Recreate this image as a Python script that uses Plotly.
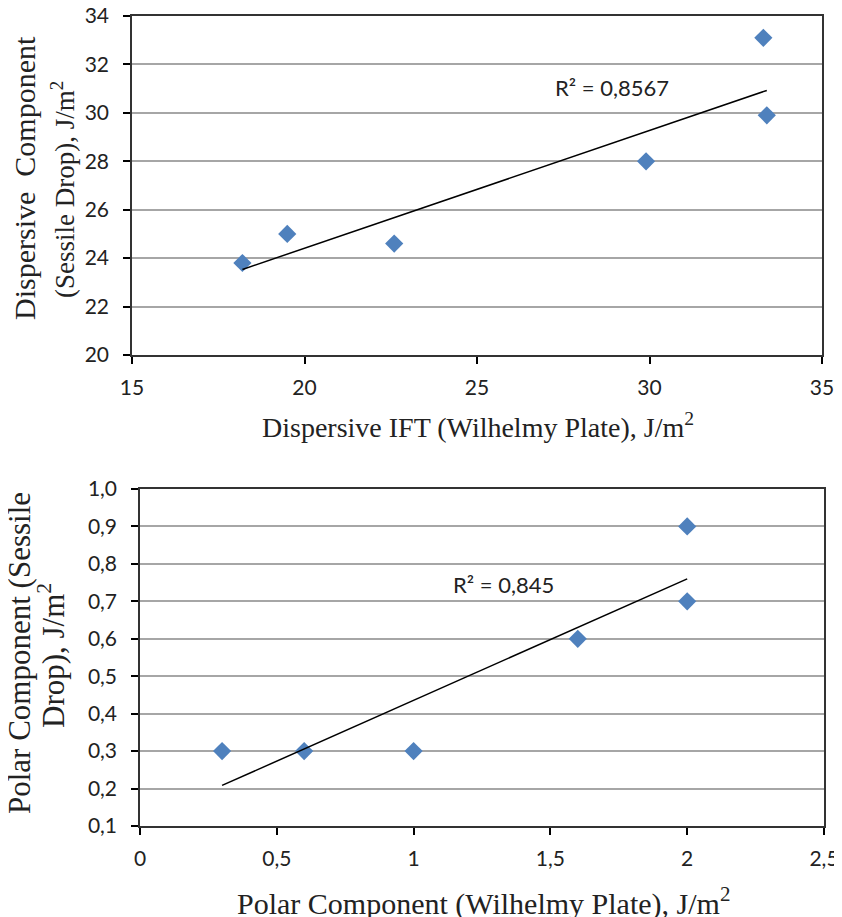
import numpy as np
import plotly.graph_objects as go

# Dispersive component data (top chart)
disp_wilhelmy = [18.2, 19.5, 22.6, 29.9, 33.3, 33.4]
disp_sessile = [23.8, 25.0, 24.6, 28.0, 33.1, 29.9]
disp_r2_label = "R² = 0,8567"

# Polar component data (bottom chart)
polar_wilhelmy = [0.3, 0.6, 1.0, 1.6, 2.0, 2.0]
polar_sessile = [0.3, 0.3, 0.3, 0.6, 0.9, 0.7]
polar_r2_label = "R² = 0,845"

# page body keeps its default 8px margin, so every position below is shifted by 8px
W, H = 834, 909
MARKER_COLOR = "#4F81BD"
SERIF = "Liberation Serif"
SANS = "Lato"


def trend(x, y):
    # linear least squares fit drawn from min x to max x, like an Excel trendline
    k, b = np.polyfit(x, y, 1)
    xs = np.array([min(x), max(x)])
    return xs, k * xs + b


fig = go.Figure()

fig.add_trace(go.Scatter(x=disp_wilhelmy, y=disp_sessile, mode="markers",
                         marker=dict(symbol="diamond", size=14, color=MARKER_COLOR),
                         xaxis="x", yaxis="y", showlegend=False))
tx, ty = trend(disp_wilhelmy, disp_sessile)
fig.add_trace(go.Scatter(x=tx, y=ty, mode="lines", line=dict(color="black", width=1.5),
                         xaxis="x", yaxis="y", showlegend=False))

fig.add_trace(go.Scatter(x=polar_wilhelmy, y=polar_sessile, mode="markers",
                         marker=dict(symbol="diamond", size=14, color=MARKER_COLOR),
                         xaxis="x2", yaxis="y2", showlegend=False))
tx2, ty2 = trend(polar_wilhelmy, polar_sessile)
fig.add_trace(go.Scatter(x=tx2, y=ty2, mode="lines", line=dict(color="black", width=1.5),
                         xaxis="x2", yaxis="y2", showlegend=False))

axis_common = dict(showline=True, linecolor="#333333", linewidth=1.5, mirror=True,
                   ticks="outside", ticklen=7, tickcolor="black", tickwidth=1.5,
                   tickfont=dict(family=SANS, size=21, color="#222222"),
                   ticklabeloverflow="allow", zeroline=False, automargin=False)
x_common = dict(showgrid=False, ticklabelstandoff=6, **axis_common)
y_common = dict(showgrid=True, gridcolor="#a6a6a6", gridwidth=1.5, ticklabelstandoff=10,
                **axis_common)

fig.update_layout(
    width=W, height=H,
    margin=dict(l=0, r=0, t=0, b=0, autoexpand=False),
    paper_bgcolor="white", plot_bgcolor="white",
    separators=",.",
    xaxis=dict(domain=[124 / W, 814 / W], range=[15, 35], dtick=5, anchor="y", **x_common),
    yaxis=dict(domain=[1 - 347 / H, 1 - 8 / H], range=[20, 34], dtick=2, anchor="x", **y_common),
    xaxis2=dict(domain=[132 / W, 816 / W], range=[0, 2.5], dtick=0.5, anchor="y2", **x_common),
    yaxis2=dict(domain=[1 - 818 / H, 1 - 481 / H], range=[0.1, 1.0], dtick=0.1,
                tickformat=".1f", anchor="x2", **y_common),
)

annotations = [
    dict(text="Dispersive IFT (Wilhelmy Plate), J/m<sup>2</sup>", x=470, y=417, size=28),
    dict(text="Dispersive&nbsp;&nbsp;Component", x=17, y=170, textangle=-90, size=30),
    dict(text="(Sessile Drop), J/m<sup>2</sup>", x=55, y=182, textangle=-90, size=27),
    dict(text="Polar Component (Wilhelmy Plate), J/m<sup>2</sup>", x=475, y=893, size=30),
    dict(text="Polar Component (Sessile", x=11, y=645, textangle=-90, size=31),
    dict(text="Drop), J/m<sup>2</sup>", x=43, y=648, textangle=-90, size=31),
]
for a in annotations:
    fig.add_annotation(xref="paper", yref="paper", showarrow=False,
                       font=dict(family=SERIF, size=a["size"], color="#222222"),
                       xanchor="center", yanchor="middle", text=a["text"],
                       x=a["x"] / W, y=1 - a["y"] / H, textangle=a.get("textangle", 0))

# R² labels placed in the data space of each chart
fig.add_annotation(xref="x", yref="y", x=28.9, y=31.05, text=disp_r2_label,
                   showarrow=False, font=dict(family=SANS, size=22, color="#222222"))
fig.add_annotation(xref="x2", yref="y2", x=1.33, y=0.745, text=polar_r2_label,
                   showarrow=False, font=dict(family=SANS, size=22, color="#222222"))

fig.write_html("out.html")
